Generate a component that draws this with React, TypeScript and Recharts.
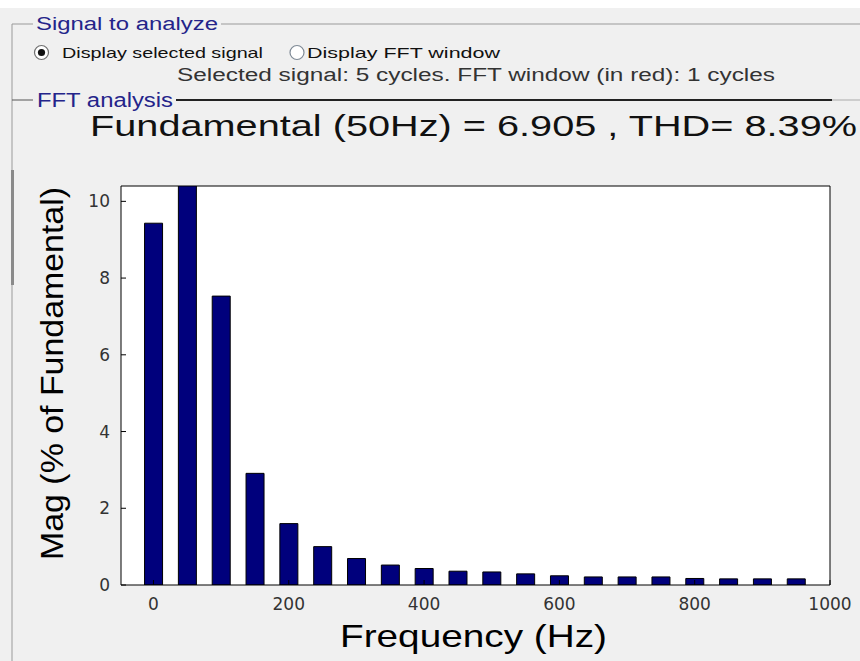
import { Bar, BarChart, CartesianGrid, XAxis, YAxis } from "recharts";

// harmonic spectrum, % of fundamental (50 Hz bar is the fundamental itself, clipped)
const freqs = [0, 50, 100, 150, 200, 250, 300, 350, 400, 450, 500, 550, 600, 650, 700, 750, 800, 850, 900, 950];
const mags = [9.43, 100, 7.53, 2.91, 1.6, 1.0, 0.69, 0.52, 0.43, 0.36, 0.34, 0.29, 0.24, 0.21, 0.21, 0.21, 0.17, 0.16, 0.16, 0.16];
const xTicks = [0, 200, 400, 600, 800, 1000];
const yTicks = [0, 2, 4, 6, 8, 10];

const title = "Fundamental (50Hz) = 6.905 , THD= 8.39%";
const xLabel = "Frequency (Hz)";
const yLabel = "Mag (% of Fundamental)";
const groupSignal = "Signal to analyze";
const groupFft = "FFT analysis";
const radioA = "Display selected signal";
const radioB = "Display FFT window";
const infoLine = "Selected signal: 5 cycles. FFT window (in red): 1 cycles";

const data = freqs.map((f, i) => ({ freq: f, mag: mags[i] }));

const SANS = "'Liberation Sans', Arial, sans-serif";
const NAVY = "#24248a";

function XTick(props: any) {
  const { x, y, payload } = props;
  return (
    <text x={x} y={y + 25} textAnchor="middle" fontFamily="'DejaVu Sans'" fontSize={17} fill="#333">
      {payload.value}
    </text>
  );
}

function YTick(props: any) {
  const { x, y, payload } = props;
  return (
    <text x={x - 11} y={y + 6} textAnchor="end" fontFamily="'DejaVu Sans'" fontSize={17} fill="#333">
      {payload.value}
    </text>
  );
}

function XLabel(props: any) {
  const vb = props.viewBox || { x: 121, y: 585, width: 709 };
  return (
    <text x={vb.x + vb.width / 2 - 2} y={vb.y + 62} textAnchor="middle" fontFamily={SANS} fontSize={32}
      textLength={267} lengthAdjust="spacingAndGlyphs" fill="#000">
      {xLabel}
    </text>
  );
}

function YLabel(props: any) {
  const vb = props.viewBox || { x: 120, y: 186, height: 399 };
  const cy = vb.y + vb.height / 2 - 12;
  return (
    <text x={63} y={cy} transform={`rotate(-90 63 ${cy})`} textAnchor="middle" fontFamily={SANS} fontSize={32}
      textLength={373} lengthAdjust="spacingAndGlyphs" fill="#000">
      {yLabel}
    </text>
  );
}

function Panel() {
  return (
    <svg width={860} height={661} style={{ position: "absolute", left: 0, top: 0 }}>
      <rect x={0} y={0} width={860} height={661} fill="#f0f0f0" />
      <rect x={0} y={0} width={860} height={8} fill="#fff" />
      {/* signal group box */}
      <line x1={12} y1={24} x2={33} y2={24} stroke="#9a9a9a" />
      <line x1={221} y1={24} x2={860} y2={24} stroke="#9a9a9a" />
      <line x1={12} y1={24} x2={12} y2={661} stroke="#9a9a9a" />
      <rect x={11} y={170} width={3} height={115} fill="#8a8a8a" />
      <text x={36} y={30} fontFamily={SANS} fontSize={18} fill={NAVY} textLength={182} lengthAdjust="spacingAndGlyphs">
        {groupSignal}
      </text>
      <circle cx={41.5} cy={52.5} r={7} fill="#fff" stroke="#6f6f6f" strokeWidth={1.2} />
      <circle cx={41.5} cy={52.5} r={3.6} fill="#111" />
      <text x={62} y={58} fontFamily={SANS} fontSize={15} fill="#111" textLength={201} lengthAdjust="spacingAndGlyphs">
        {radioA}
      </text>
      <circle cx={297} cy={52.5} r={7} fill="#fff" stroke="#7f8a96" strokeWidth={1.2} />
      <text x={307} y={58} fontFamily={SANS} fontSize={15} fill="#111" textLength={193} lengthAdjust="spacingAndGlyphs">
        {radioB}
      </text>
      <text x={177} y={81} fontFamily={SANS} fontSize={18} fill="#333" textLength={598} lengthAdjust="spacingAndGlyphs">
        {infoLine}
      </text>
      {/* fft group box */}
      <line x1={12} y1={100} x2={33} y2={100} stroke="#555" />
      <line x1={176} y1={100} x2={832} y2={100} stroke="#222" strokeWidth={2} />
      <line x1={832} y1={100} x2={860} y2={100} stroke="#aaa" />
      <text x={37} y={107} fontFamily={SANS} fontSize={20} fill={NAVY} textLength={136} lengthAdjust="spacingAndGlyphs">
        {groupFft}
      </text>
      <text x={90} y={136} fontFamily={SANS} fontSize={29} fill="#111" textLength={767} lengthAdjust="spacingAndGlyphs">
        {title}
      </text>
    </svg>
  );
}

export default function App() {
  return (
    <div style={{ position: "absolute", left: 0, top: 0, width: 860, height: 661, overflow: "hidden" }}>
      <Panel />
      <div style={{ position: "absolute", left: 0, top: 0 }}>
        <BarChart width={860} height={661} data={data} margin={{ top: 185, right: 29, bottom: 46, left: 120 }}>
          <CartesianGrid xAxisId="b" yAxisId="l" horizontal={false} vertical={false} fill="#fff" />
          <Bar
            xAxisId="b"
            yAxisId="l"
            dataKey="mag"
            barSize={18}
            fill="#00007c"
            stroke="#000"
            strokeWidth={1}
            isAnimationActive={false}
          />
          <XAxis
            xAxisId="b"
            dataKey="freq"
            type="number"
            domain={[-48, 1000]}
            allowDataOverflow
            ticks={xTicks}
            interval={0}
            height={30}
            tickSize={-5}
            tickMargin={5}
            tick={<XTick />}
            axisLine={{ stroke: "#000" }}
            tickLine={{ stroke: "#000" }}
            label={{ content: <XLabel /> }}
          />
          <XAxis
            xAxisId="t"
            orientation="top"
            dataKey="freq"
            type="number"
            domain={[-48, 1000]}
            allowDataOverflow
            ticks={xTicks}
            interval={0}
            height={1}
            tickSize={-5}
            tick={false}
            axisLine={{ stroke: "#000" }}
            tickLine={{ stroke: "#000" }}
          />
          <YAxis
            yAxisId="l"
            type="number"
            domain={[0, 10.4]}
            allowDataOverflow
            ticks={yTicks}
            interval={0}
            width={1}
            tickSize={-5}
            tickMargin={5}
            tick={<YTick />}
            axisLine={{ stroke: "#000" }}
            tickLine={{ stroke: "#000" }}
            label={{ content: <YLabel /> }}
          />
          <YAxis
            yAxisId="r"
            orientation="right"
            type="number"
            domain={[0, 10.4]}
            allowDataOverflow
            ticks={yTicks}
            interval={0}
            width={1}
            tickSize={-5}
            tick={false}
            axisLine={{ stroke: "#000" }}
            tickLine={{ stroke: "#000" }}
          />
        </BarChart>
      </div>
    </div>
  );
}
